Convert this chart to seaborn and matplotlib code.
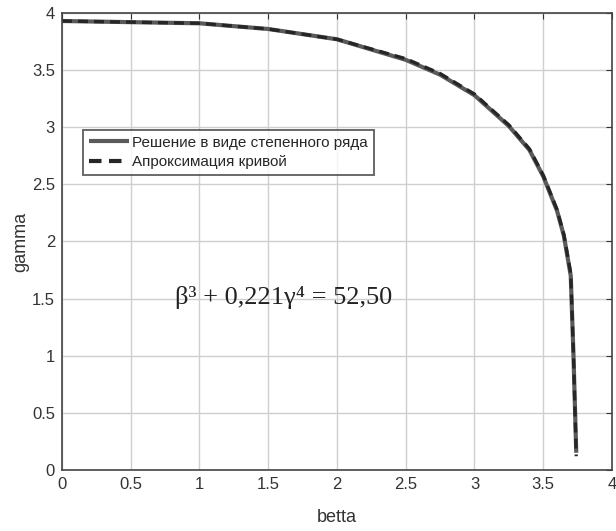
import seaborn as sns
import pandas as pd
import matplotlib.pyplot as plt

# values
betta = [0.0, 0.5, 1.0, 1.5, 2.0, 2.5, 2.75, 3.0, 3.25, 3.4, 3.5, 3.6, 3.65, 3.7, 3.72, 3.74]
gamma_series = [3.93, 3.92, 3.91, 3.86, 3.77, 3.59, 3.46, 3.28, 3.01, 2.80, 2.57, 2.27, 2.05, 1.70, 1.0, 0.15]
gamma_approx = [3.93, 3.92, 3.91, 3.86, 3.77, 3.60, 3.47, 3.29, 3.02, 2.81, 2.58, 2.28, 2.06, 1.72, 1.0, 0.12]

labels = ['Решение в виде степенного ряда', 'Апроксимация кривой']
xticks = [0, 0.5, 1, 1.5, 2, 2.5, 3, 3.5, 4]
yticks = [0, 0.5, 1, 1.5, 2, 2.5, 3, 3.5, 4]

df = pd.DataFrame({
    'betta': betta * 2,
    'gamma': gamma_series + gamma_approx,
    'kind': [labels[0]] * len(betta) + [labels[1]] * len(betta),
})

sns.set_style('white')
plt.rcParams['font.family'] = ['Liberation Sans', 'DejaVu Sans']

fig = plt.figure(figsize=(6.16, 5.31), dpi=100)
ax = fig.add_axes([0.1006, 0.115, 0.8929, 0.8605])

sns.lineplot(data=df, x='betta', y='gamma', hue='kind', style='kind',
             palette=['#5a5a5a', '#262626'], dashes=[(1, 0), (3, 1.8)],
             linewidth=3, sort=False, ax=ax)
ax.lines[1].set_linewidth(2.4)

ax.set_xlim(0, 4)
ax.set_ylim(0, 4)
ax.set_xticks(xticks)
ax.set_yticks(yticks)
ax.set_xticklabels([f'{t:g}' for t in xticks])
ax.set_yticklabels([f'{t:g}' for t in yticks])
ax.grid(True, color='#cfcfcf', linewidth=1.0)
ax.tick_params(direction='in', length=4, labelsize=12, color='#333333',
               labelcolor='#333333', pad=5,
               top=True, right=True, labeltop=False, labelright=False)
for s in ax.spines.values():
    s.set_color('#444444')
    s.set_linewidth(1.2)
ax.set_xlabel('betta', fontsize=13, labelpad=12, color='#333333')
ax.set_ylabel('gamma', fontsize=13, labelpad=2, color='#333333')

leg = ax.legend(loc='upper left', bbox_to_anchor=(0.038, 0.745), fontsize=11,
                frameon=True, fancybox=False, edgecolor='#444444',
                handlelength=2.6, handletextpad=0.2, borderpad=0.4,
                labelspacing=0.35, borderaxespad=0)
leg.get_frame().set_linewidth(1.4)
leg.set_title(None)

ax.text(0.82, 1.51, 'β³ + 0,221γ⁴ = 52,50', fontsize=19, va='center',
        family=['Liberation Serif', 'DejaVu Serif'], color='#222222')

fig.savefig('out.png', dpi=100)
